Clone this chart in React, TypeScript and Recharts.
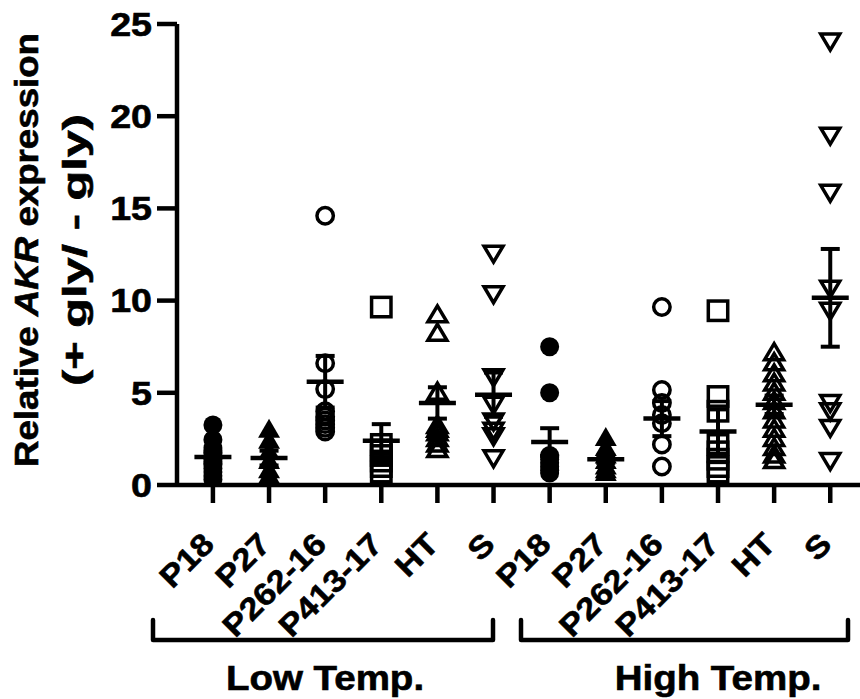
import React from "react";
import { ScatterChart, Scatter, XAxis, YAxis, ErrorBar } from "recharts";

const FONT = "'Liberation Sans', Arial, Helvetica, sans-serif";
const STRETCH = 1.12; // the figure's font is a little wider than Arial

// categories (low temp. then high temp.)
const categories = ["P18", "P27", "P262-16", "P413-17", "HT", "S", "P18", "P27", "P262-16", "P413-17", "HT", "S"];
const markers = ["circleFilled", "triangleFilled", "circleOpen", "squareOpen", "triangleOpen", "triangleDownOpen"];
const yTicks = [0, 5, 10, 15, 20, 25];

// individual values
const lowP18 = [3.25, 2.45, 2.0, 1.7, 1.4, 1.1, 0.9, 0.7, 0.5, 0.3];
const lowP27 = [3.0, 2.4, 1.8, 1.3, 0.8, 0.5];
const lowP262 = [14.6, 6.6, 5.2, 4.0, 3.7, 3.5, 3.3, 3.1, 2.9];
const lowP413 = [9.65, 2.2, 1.9, 1.6, 1.3, 1.0, 0.7];
const lowHT = [9.2, 8.2, 5.0, 3.2, 3.0, 2.8, 2.5, 2.2, 1.9];
const lowS = [12.6, 10.4, 5.9, 4.4, 3.5, 3.0, 2.7, 1.5];
const highP18 = [7.5, 5.0, 1.6, 1.4, 1.2, 1.0, 0.8, 0.65];
const highP27 = [2.55, 2.0, 1.6, 1.3, 1.0, 0.8, 0.65];
const highP262 = [9.65, 5.15, 4.45, 3.8, 3.35, 2.2, 1.0];
const highP413 = [9.45, 4.8, 4.0, 2.2, 1.8, 1.4, 1.0, 0.7];
const highHT = [7.15, 6.6, 6.0, 5.5, 5.0, 4.5, 4.0, 3.5, 3.0, 2.5, 2.0, 1.6, 1.3];
const highS = [24.1, 19.0, 15.9, 10.7, 9.5, 4.5, 4.05, 3.15, 1.35];

const groups = [lowP18, lowP27, lowP262, lowP413, lowHT, lowS, highP18, highP27, highP262, highP413, highHT, highS];

// mean and SEM per category
const means = [1.52, 1.46, 5.6, 2.4, 4.45, 4.9, 2.33, 1.4, 3.6, 2.9, 4.35, 10.15];
const sems = [0.3, 0.4, 1.4, 0.9, 0.85, 1.2, 0.75, 0.2, 0.95, 1.2, 0.5, 2.65];

const meanData = means.map((m, i) => ({ x: i, y: m, sem: sems[i] }));

const textStyle = {
  fontFamily: FONT,
  fontWeight: "bold" as const,
  fill: "#000",
  stroke: "#000",
  strokeWidth: 0.6,
};

function Marker({ cx, cy, kind }: { cx: number; cy: number; kind: string }) {
  if (cx == null || cy == null) return null;
  const sw = 3.5;
  switch (kind) {
    case "circleFilled":
      return <circle cx={cx} cy={cy} r={9.5} fill="#000" />;
    case "triangleFilled":
      return <path d={`M${cx - 11},${cy + 8} L${cx + 11},${cy + 8} L${cx},${cy - 11} Z`} fill="#000" />;
    case "circleOpen":
      return <circle cx={cx} cy={cy} r={8.2} fill="none" stroke="#000" strokeWidth={sw} />;
    case "squareOpen":
      return <rect x={cx - 9.7} y={cy - 9.7} width={19.4} height={19.4} fill="none" stroke="#000" strokeWidth={sw} />;
    case "triangleOpen":
      return (
        <path d={`M${cx - 9.5},${cy + 6.5} L${cx + 9.5},${cy + 6.5} L${cx},${cy - 9.5} Z`} fill="none" stroke="#000" strokeWidth={sw} />
      );
    default:
      return (
        <path d={`M${cx - 9.5},${cy - 6.5} L${cx + 9.5},${cy - 6.5} L${cx},${cy + 9.5} Z`} fill="none" stroke="#000" strokeWidth={sw} />
      );
  }
}

const MeanLine = (props: any) => {
  const { cx, cy } = props;
  if (cx == null || cy == null) return null;
  return <line x1={cx - 18.5} x2={cx + 18.5} y1={cy} y2={cy} stroke="#000" strokeWidth={4.5} />;
};

const XTick = (props: any) => {
  const { x, y, payload } = props;
  return (
    <text
      transform={`translate(${x + 3},${y + 41}) rotate(-45) scale(${STRETCH},1)`}
      textAnchor="end"
      fontSize={31}
      {...textStyle}
    >
      {categories[payload.value]}
    </text>
  );
};

const YTick = (props: any) => {
  const { x, y, payload } = props;
  return (
    <text transform={`translate(${x},${y}) scale(1.14,1)`} textAnchor="end" dy="0.36em" fontSize={33} {...textStyle}>
      {payload.value}
    </text>
  );
};

const YTitle = () => (
  <g fontSize={33} {...textStyle}>
    <text transform="translate(38,250) rotate(-90)" textAnchor="middle" textLength={434} lengthAdjust="spacingAndGlyphs">
      Relative <tspan fontStyle="italic">AKR</tspan> expression
    </text>
    <text transform="translate(86,250) rotate(-90)" textAnchor="middle" textLength={272} lengthAdjust="spacingAndGlyphs">
      (+ gly/ - gly)
    </text>
  </g>
);

const GroupLabels = () => (
  <g>
    <path d="M153,620 V640 H493 V620" fill="none" stroke="#000" strokeWidth={4.5} strokeLinejoin="round" strokeLinecap="round" />
    <path d="M521,620 V640 H848 V620" fill="none" stroke="#000" strokeWidth={4.5} strokeLinejoin="round" strokeLinecap="round" />
    <text transform={`translate(325,690) scale(1.1,1)`} textAnchor="middle" fontSize={35} {...textStyle}>
      Low Temp.
    </text>
    <text transform={`translate(718,690) scale(1.1,1)`} textAnchor="middle" fontSize={35} {...textStyle}>
      High Temp.
    </text>
  </g>
);

export default function App() {
  const axisStroke = { stroke: "#000", strokeWidth: 4.5 };
  return (
    <div style={{ position: "absolute", left: 0, top: 0, width: 860, height: 699, background: "#fff" }}>
      <ScatterChart width={860} height={699} margin={{ top: 24, right: 0, bottom: 0, left: 0 }}>
        <XAxis
          type="number"
          dataKey="x"
          domain={[-0.64, 11.53]}
          ticks={categories.map((_, i) => i)}
          interval={0}
          allowDataOverflow
          height={214}
          tickSize={18}
          axisLine={axisStroke}
          tickLine={axisStroke}
          tick={<XTick />}
          label={<GroupLabels />}
        />
        <YAxis
          type="number"
          dataKey="y"
          domain={[0, 25]}
          ticks={yTicks}
          interval={0}
          allowDataOverflow
          width={177}
          tickSize={20}
          tickMargin={5}
          axisLine={axisStroke}
          tickLine={axisStroke}
          tick={<YTick />}
          label={<YTitle />}
        />
        {groups.map((vals, i) => (
          <Scatter
            key={i}
            data={vals.map((v) => ({ x: i, y: v }))}
            isAnimationActive={false}
            shape={(p: any) => <Marker cx={p.cx} cy={p.cy} kind={markers[i % 6]} />}
          />
        ))}
        <Scatter data={meanData} isAnimationActive={false} shape={MeanLine}>
          <ErrorBar dataKey="sem" direction="y" width={9.5} stroke="#000" strokeWidth={4} isAnimationActive={false} />
        </Scatter>
      </ScatterChart>
    </div>
  );
}
